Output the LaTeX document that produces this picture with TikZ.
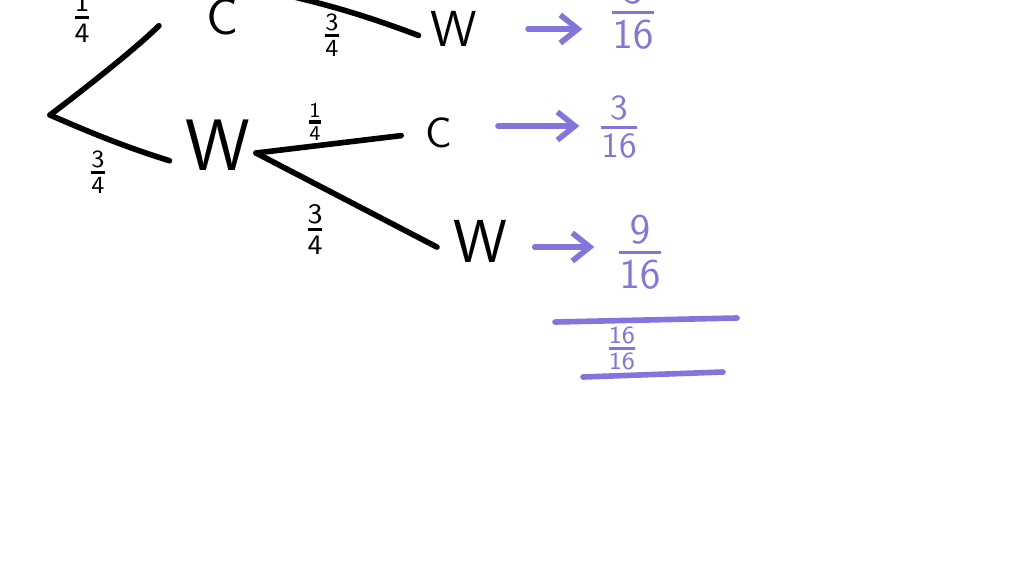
\documentclass[tikz,border=0pt]{standalone}
\usepackage{amsmath}
\usepackage{tikz}
\usetikzlibrary{arrows.meta}
\definecolor{penblue}{RGB}{128,118,222}
\newcommand{\fr}[2]{\ensuremath{\genfrac{}{}{0.9pt}{1}{\mathsf{#1}}{\mathsf{#2}}}}

\begin{document}
\begin{tikzpicture}[line width=1.6pt,line cap=round,
  ltr/.style={font=\sffamily,inner sep=0pt},
  prob/.style={font=\normalsize,inner sep=0pt},
  res/.style={font=\LARGE,text=penblue,inner sep=0pt},
  resarrow/.style={draw=penblue,-{Straight Barb[length=5pt,width=8pt]}}]
\useasboundingbox (0,0) rectangle (10.24,5.76);
\clip (0,0) rectangle (10.24,5.76);
% tree
\coordinate (R) at (0.50,4.61);
\coordinate (cfork) at (2.60,5.87);
\coordinate (wfork) at (2.56,4.23);
\node[ltr,font=\sffamily\Large] (C1) at (2.22,5.59) {C};
\node[ltr,font=\sffamily\huge] (W1) at (2.18,4.31) {W};
\node[ltr,font=\sffamily\Large] (W2) at (4.54,5.47) {W};
\node[ltr,font=\sffamily\large] (C2) at (4.39,4.43) {C};
\node[ltr,font=\sffamily\LARGE] (W3) at (4.80,3.35) {W};
\draw[shorten >=0.63cm] (R) to[bend right=4] ([yshift=1.5mm]C1.north west);
\draw[shorten >=0.14cm] (R) to[bend right=3] ([yshift=-2mm]W1.west);
\draw[shorten >=0.10cm] (cfork) to[bend left=4] ([yshift=-1mm]W2.west);
\draw[shorten >=0.22cm] (wfork) -- (C2.west);
\draw[shorten >=0.15cm] (wfork) -- ([yshift=-1.3mm]W3.west);
% branch labels
\node[prob,font=\large] (f1) at (0.82,5.58) {\fr{1}{4}};
\node[prob] (f2) at (3.32,5.41) {\fr{3}{4}};
\node[prob] (f3) at (0.98,4.04) {\fr{3}{4}};
\node[prob,font=\footnotesize] (f4) at (3.15,4.54) {\fr{1}{4}};
\node[prob,font=\large] (f5) at (3.15,3.46) {\fr{3}{4}};
% results
\node[res] (r1) at (6.33,5.64) {\fr{3}{16}};
\node[res,font=\Large] (r2) at (6.19,4.49) {\fr{3}{16}};
\node[res] (r3) at (6.40,3.24) {\fr{9}{16}};
\node[res,font=\normalsize] (r4) at (6.22,2.28) {\fr{16}{16}};
\draw[resarrow,shorten <=0.48cm,shorten >=0.23cm] (W2.east) -- (W2.east -| r1.west);
\draw[resarrow,shorten <=0.43cm,shorten >=0.15cm] ([yshift=0.7mm]C2.east) -- ([yshift=0.7mm]C2.east -| r2.west);
\draw[resarrow,shorten <=0.25cm,shorten >=0.18cm] ([yshift=-0.6mm]W3.east) -- ([yshift=-0.6mm]W3.east -| r3.west);
% sum lines
\coordinate (s1) at (5.55,2.54);
\coordinate (s2) at (7.37,2.58);
\coordinate (s3) at (5.83,1.99);
\coordinate (s4) at (7.23,2.04);
\draw[penblue] (s1) -- (s2);
\draw[penblue] (s3) -- (s4);
\end{tikzpicture}
\end{document}
